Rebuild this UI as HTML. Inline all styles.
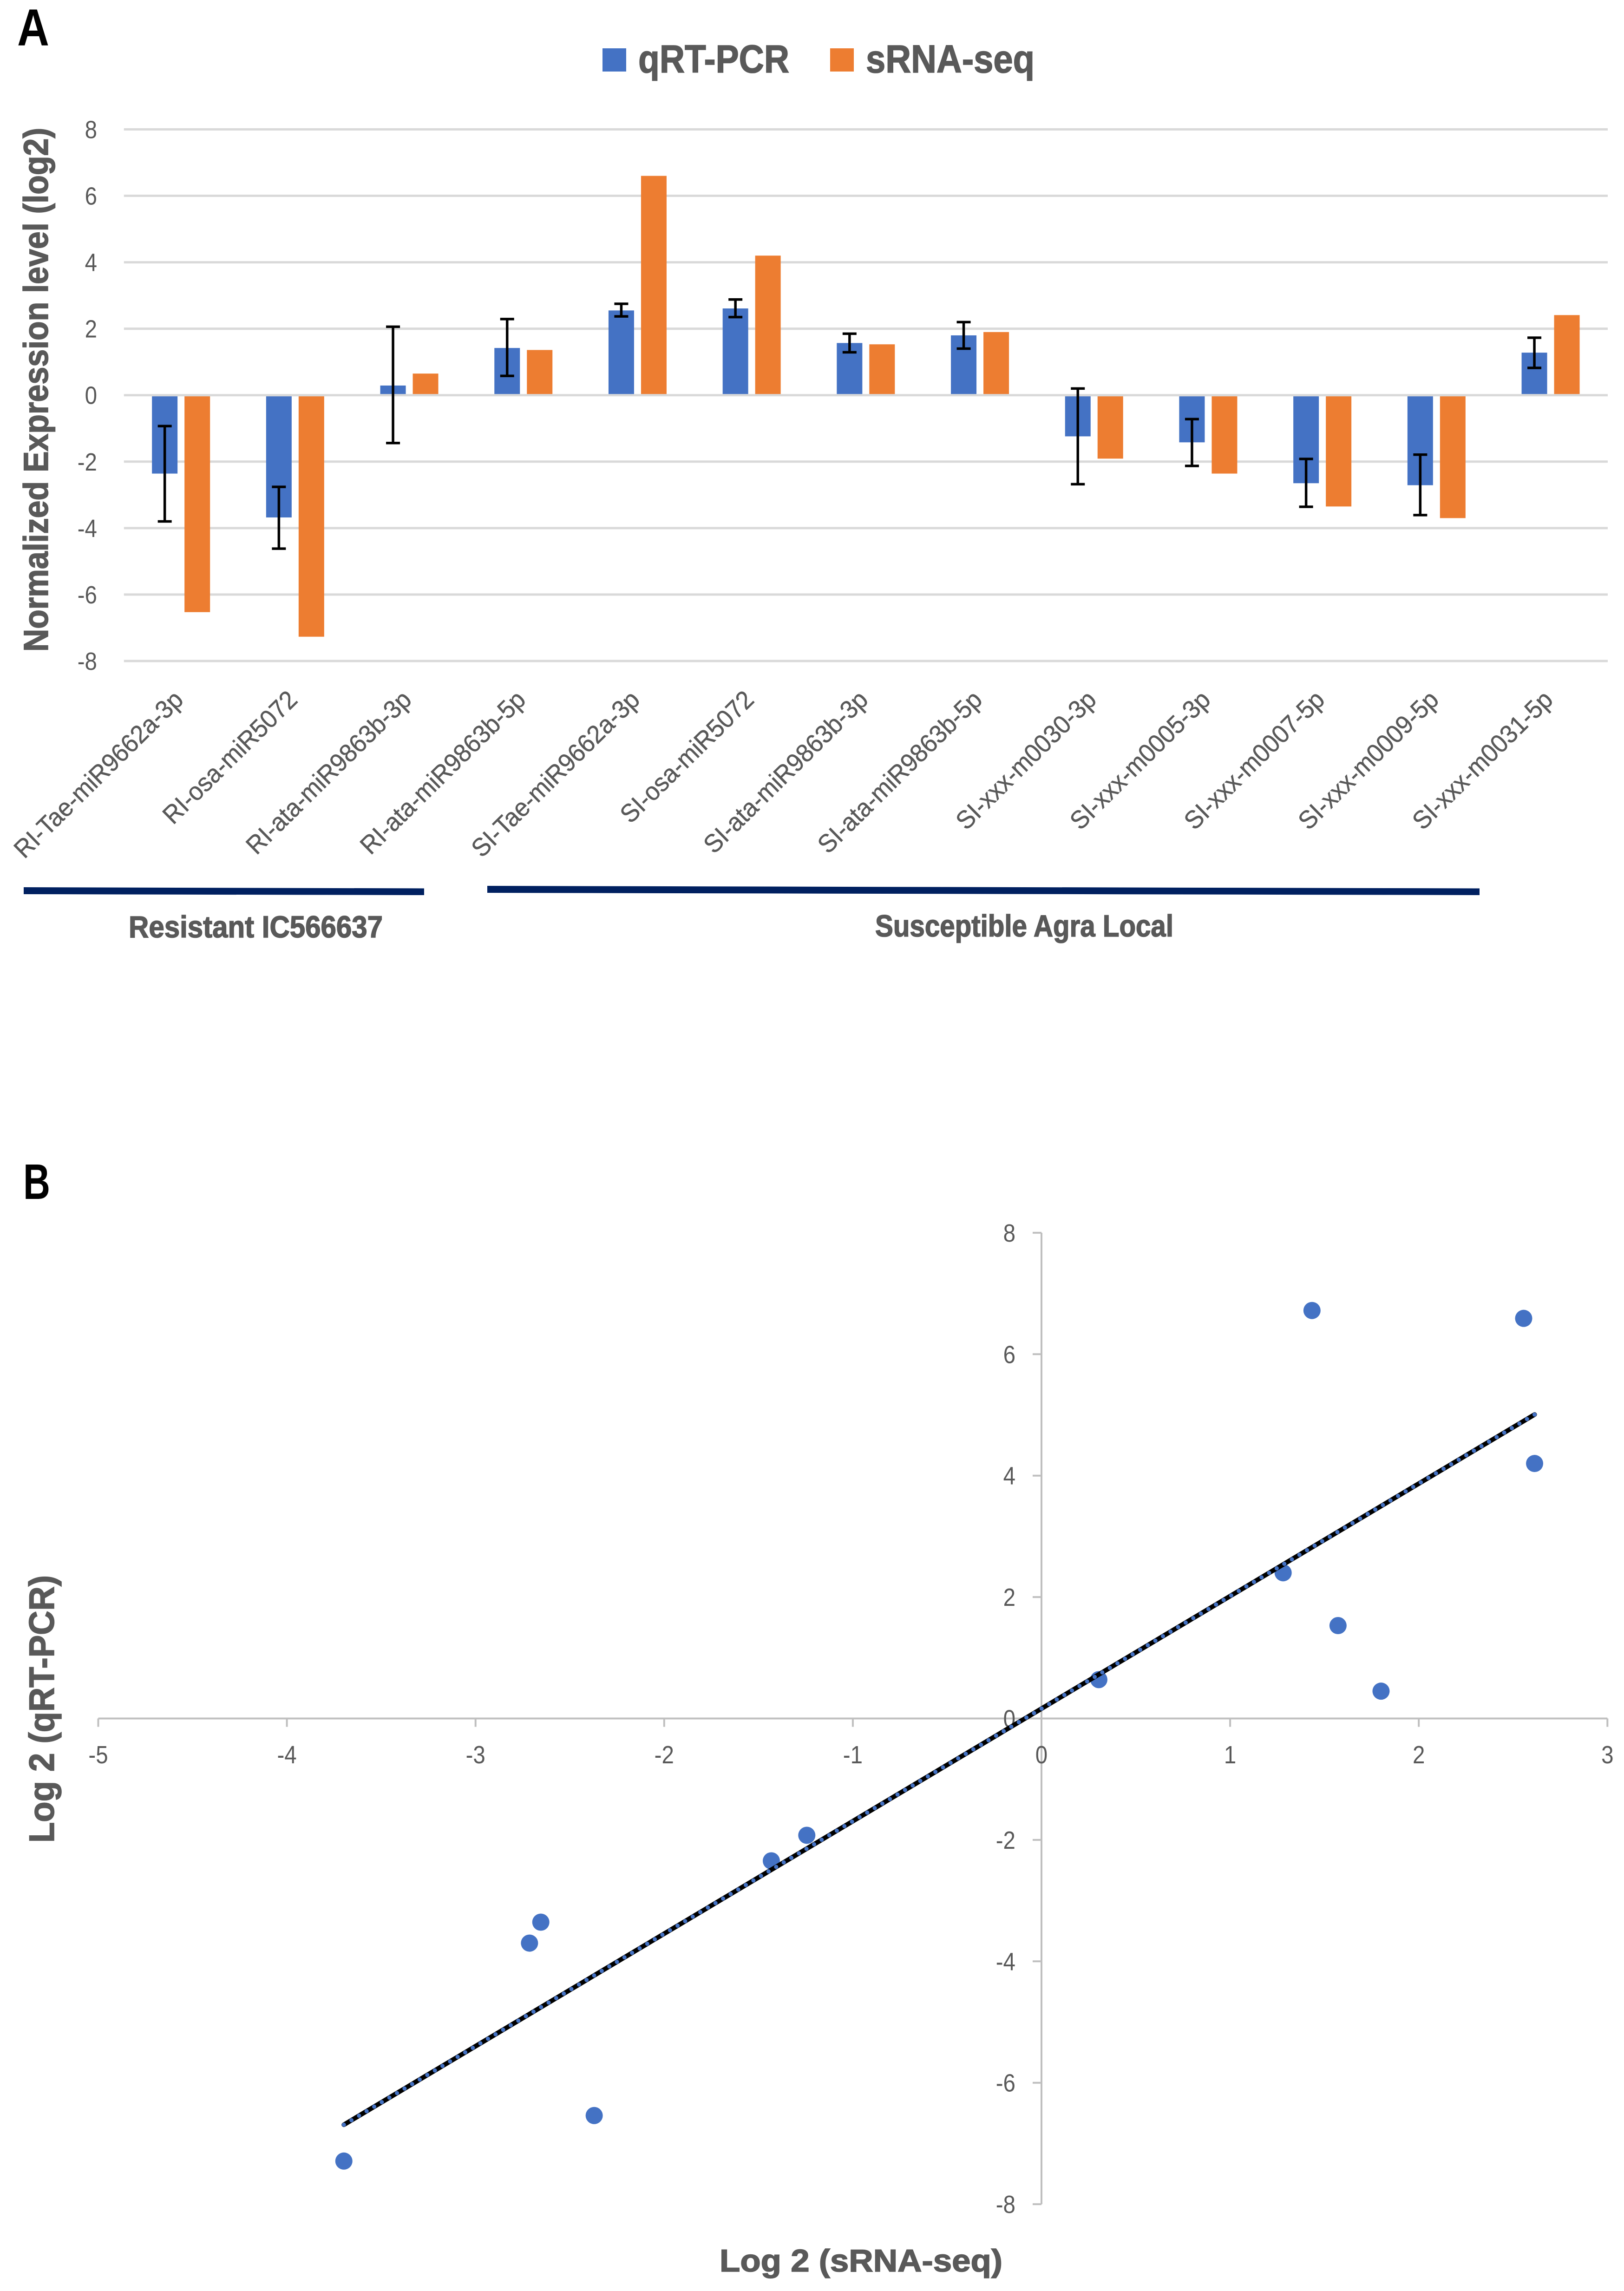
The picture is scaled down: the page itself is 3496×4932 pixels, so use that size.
<!DOCTYPE html>
<html lang="en">
<head>
<meta charset="utf-8">
<title>qRT-PCR and sRNA-seq expression charts</title>
<style>
html,body{margin:0;padding:0;background:#fff;}
svg{display:block;}
text{font-family:"Liberation Sans",sans-serif;fill:#595959;}
.heavy{stroke:#595959;stroke-width:1.6px;}
</style>
</head>
<body>
<svg id="figure" xmlns="http://www.w3.org/2000/svg" width="3496" height="4932" viewBox="0 0 3496 4932">
  <rect x="0" y="0" width="3496" height="4932" fill="#ffffff"/>
  <text x="37" y="98" font-size="112" font-weight="bold" style="fill:#000" textLength="69" lengthAdjust="spacingAndGlyphs">A</text>
  <text x="50" y="2581" font-size="108" font-weight="bold" style="fill:#000" textLength="58" lengthAdjust="spacingAndGlyphs">B</text>

  <g>
    <rect x="1297" y="104" width="51" height="50" fill="#4472c4"/>
    <text class="heavy" x="1374" y="156" font-size="84" font-weight="bold" textLength="325" lengthAdjust="spacingAndGlyphs">qRT-PCR</text>
    <rect x="1787" y="104" width="51" height="50" fill="#ed7d31"/>
    <text class="heavy" x="1864" y="156" font-size="84" font-weight="bold" textLength="363" lengthAdjust="spacingAndGlyphs">sRNA-seq</text>
  </g>

  <text class="heavy" transform="translate(103,1403) rotate(-90)" font-size="74" font-weight="bold" textLength="1128" lengthAdjust="spacingAndGlyphs">Normalized Expression level (log2)</text>

  <g id="bar-chart"></g>

  <polygon points="51,1910 913,1912.5 913,1927 51,1925" fill="#002060"/>
  <polygon points="1049,1907 3185,1912.5 3185,1927 1049,1922" fill="#002060"/>
  <text class="heavy" x="277" y="2018" font-size="66" font-weight="bold" textLength="547" lengthAdjust="spacingAndGlyphs">Resistant IC566637</text>
  <text class="heavy" x="1884" y="2016" font-size="66" font-weight="bold" textLength="642" lengthAdjust="spacingAndGlyphs">Susceptible Agra Local</text>

  <g id="scatter-chart"></g>

  <text class="heavy" x="1549" y="4890" font-size="68" font-weight="bold" textLength="609" lengthAdjust="spacingAndGlyphs">Log 2 (sRNA-seq)</text>
  <text class="heavy" transform="translate(116,3967) rotate(-90)" font-size="76" font-weight="bold" textLength="576" lengthAdjust="spacingAndGlyphs">Log 2 (qRT-PCR)</text>
</svg>

<script>
var categories = ["RI-Tae-miR9662a-3p","RI-osa-miR5072","RI-ata-miR9863b-3p","RI-ata-miR9863b-5p","SI-Tae-miR9662a-3p","SI-osa-miR5072","SI-ata-miR9863b-3p","SI-ata-miR9863b-5p","SI-xxx-m0030-3p","SI-xxx-m0005-3p","SI-xxx-m0007-5p","SI-xxx-m0009-5p","SI-xxx-m0031-5p"];
var qrtPcr = [-2.36,-3.68,0.29,1.42,2.55,2.61,1.57,1.80,-1.24,-1.42,-2.65,-2.71,1.28];
var srnaSeq = [-6.53,-7.27,0.65,1.36,6.60,4.20,1.53,1.90,-1.91,-2.36,-3.35,-3.70,2.41];
var errorHigh = [-0.93,-2.76,2.06,2.29,2.75,2.88,1.85,2.20,0.20,-0.72,-1.92,-1.79,1.73];
var errorLow = [-3.80,-4.62,-1.44,0.58,2.37,2.35,1.29,1.40,-2.68,-2.13,-3.36,-3.61,0.82];
var barTicks = [8,6,4,2,0,-2,-4,-6,-8];

var scatterX = [1.434,2.556,2.614,1.281,1.572,1.80,0.304,-1.244,-1.432,-2.654,-2.714,-2.371,-3.698];
var scatterY = [6.72,6.59,4.20,2.40,1.53,0.45,0.64,-1.924,-2.345,-3.355,-3.70,-6.54,-7.29];
var scatterXTicks = [-5,-4,-3,-2,-1,0,1,2,3];
var scatterYTicks = [8,6,4,2,0,-2,-4,-6,-8];

var NS = "http://www.w3.org/2000/svg";
function mk(parent, tag, attrs) {
  var el = document.createElementNS(NS, tag);
  for (var k in attrs) el.setAttribute(k, attrs[k]);
  parent.appendChild(el);
  return el;
}

/* ---------- Bar chart ---------- */
var bar = document.getElementById("bar-chart");
var barLeft = 266.8, barStep = 245.7, barRight = 3461;
function yBar(v) { return 850.7 - 71.53 * v; }
function xCat(i) { return barLeft + barStep * (i + 0.5); }

barTicks.forEach(function (t) {
  if (t === 0) return;
  var g = mk(bar, "line", {x1: barLeft, x2: barRight, y1: yBar(t), y2: yBar(t), stroke: "#d9d9d9", "stroke-width": 5});
  
  
});
barTicks.forEach(function (t) {
  var y = yBar(t);
  var lb = mk(bar, "text", {transform: "translate(209," + (y + 19) + ") scale(.88,1)", "font-size": 54, "text-anchor": "end"});
  
  
  lb.textContent = t;
});
function drawBar(v, x, fill, name) {
  var y0 = yBar(0), y1 = yBar(v);
  var r = mk(bar, "rect", {x: x, width: 55, y: Math.min(y0, y1), height: Math.abs(y1 - y0), fill: fill});
  
  
}
categories.forEach(function (c, i) {
  var cx = xCat(i);
  drawBar(qrtPcr[i], cx - 62.5, "#4472c4", "bar-qrt-pcr");
  drawBar(srnaSeq[i], cx + 7.5, "#ed7d31", "bar-srna-seq");
});
var zero = mk(bar, "line", {x1: barLeft, x2: barRight, y1: yBar(0), y2: yBar(0), stroke: "#d9d9d9", "stroke-width": 5});



categories.forEach(function (c, i) {
  var ex = xCat(i) - 35;
  var hi = yBar(errorHigh[i]), lo = yBar(errorLow[i]);
  var eg = mk(bar, "g", {stroke: "#000", "stroke-width": 5.5});
  
  
  mk(eg, "line", {x1: ex, x2: ex, y1: hi, y2: lo});
  mk(eg, "line", {x1: ex - 15, x2: ex + 15, y1: hi, y2: hi});
  mk(eg, "line", {x1: ex - 15, x2: ex + 15, y1: lo, y2: lo});
});
categories.forEach(function (c, i) {
  var t = mk(bar, "text", {transform: "translate(" + (xCat(i) + 8) + ",1510) rotate(-44.6) scale(.95,1)", "font-size": 55, "text-anchor": "end", style: "stroke:#595959;stroke-width:.5px"});
  
  
  t.textContent = c;
});

/* ---------- Scatter chart ---------- */
var sc = document.getElementById("scatter-chart");
function xS(v) { return 2242 + 406.1 * v; }
function yS(v) { return 3699.5 - 130.7 * v; }

var xAxis = mk(sc, "line", {x1: xS(-5), x2: xS(3), y1: yS(0), y2: yS(0), stroke: "#bfbfbf", "stroke-width": 4});


var yAxis = mk(sc, "line", {x1: xS(0), x2: xS(0), y1: yS(8), y2: yS(-8), stroke: "#bfbfbf", "stroke-width": 4});



scatterXTicks.forEach(function (t) {
  var x = xS(t);
  var tk = mk(sc, "line", {x1: x, x2: x, y1: yS(0), y2: yS(0) + 18, stroke: "#bfbfbf", "stroke-width": 4});
  
  
  var lb = mk(sc, "text", {transform: "translate(" + x + ",3796) scale(.88,1)", "font-size": 54, "text-anchor": "middle"});
  
  
  lb.textContent = t;
});
scatterYTicks.forEach(function (t) {
  var y = yS(t);
  var tk = mk(sc, "line", {x1: xS(0) - 19, x2: xS(0), y1: y, y2: y, stroke: "#bfbfbf", "stroke-width": 4});
  
  
  var lb = mk(sc, "text", {transform: "translate(2186," + (y + 19) + ") scale(.88,1)", "font-size": 54, "text-anchor": "end"});
  
  
  lb.textContent = t;
});

scatterX.forEach(function (v, i) {
  var p = mk(sc, "circle", {cx: xS(v), cy: yS(scatterY[i]), r: 18.5, fill: "#4472c4"});
  
  
});

/* least-squares trendline through the points */
var n = scatterX.length, sx = 0, sy = 0, sxy = 0, sxx = 0;
scatterX.forEach(function (v, i) { sx += v; sy += scatterY[i]; sxy += v * scatterY[i]; sxx += v * v; });
var slope = (n * sxy - sx * sy) / (n * sxx - sx * sx);
var intercept = (sy - slope * sx) / n;
var xMin = Math.min.apply(null, scatterX), xMax = Math.max.apply(null, scatterX);
var tl = {x1: xS(xMin), y1: yS(slope * xMin + intercept), x2: xS(xMax), y2: yS(slope * xMax + intercept)};
var tlBase = mk(sc, "line", {x1: tl.x1, y1: tl.y1, x2: tl.x2, y2: tl.y2, stroke: "#000", "stroke-width": 10, "stroke-linecap": "round"});


var tlDots = mk(sc, "line", {x1: tl.x1, y1: tl.y1, x2: tl.x2, y2: tl.y2, stroke: "#4472c4", "stroke-width": 9, "stroke-linecap": "round", "stroke-dasharray": "0.01 19"});


</script>
</body>
</html>
